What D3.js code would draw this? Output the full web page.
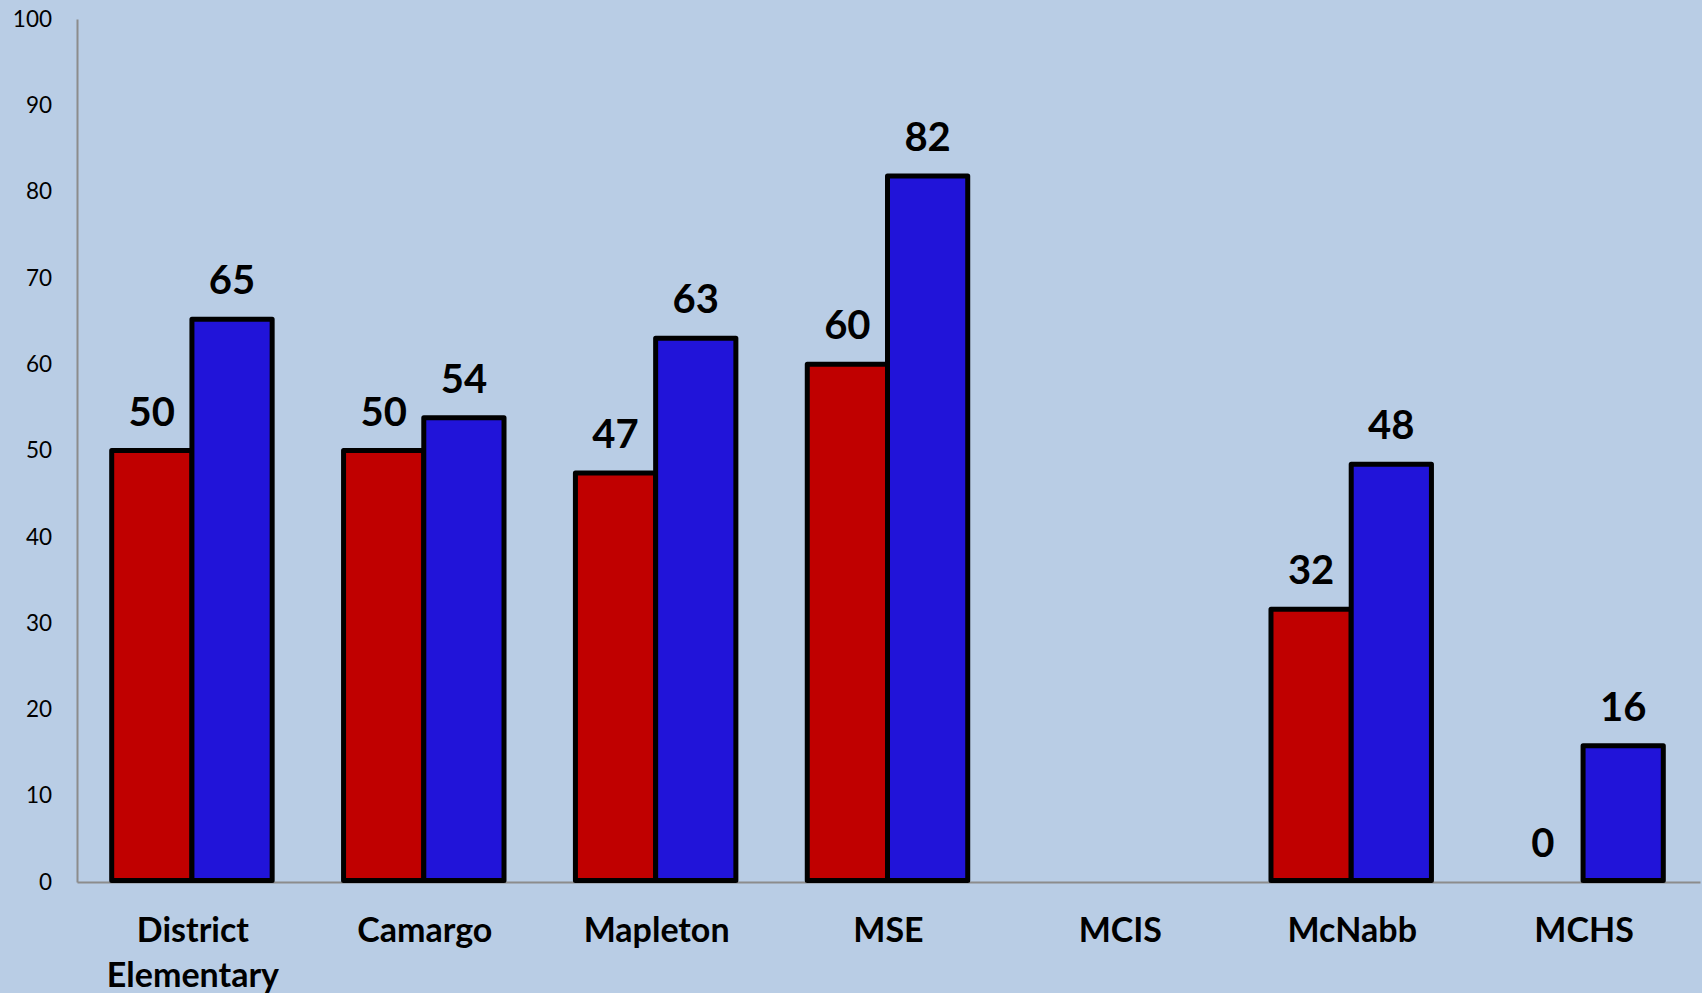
<!DOCTYPE html>
<html><head><meta charset="utf-8">
<script src="https://cdn.jsdelivr.net/npm/d3@7"></script>
<style>html,body{margin:0;padding:0;background:#B9CDE5;}svg{display:block;}</style>
</head><body>
<svg id="chart" width="1702" height="993"></svg>
<script>
const categories = ["District Elementary", "Camargo", "Mapleton", "MSE", "MCIS", "McNabb", "MCHS"];
const seriesRed = [50, 50, 47.4, 60, null, 31.6, 0];
const seriesBlue = [65.2, 53.8, 63, 81.8, null, 48.4, 15.8];
const yTicks = [0, 10, 20, 30, 40, 50, 60, 70, 80, 90, 100];

(function () {
const W = 1702, H = 993;
const mLeft = 77, mRight = 1700, mTop = 19, mBottom = 882;
const svg = d3.select("#chart");
svg.append("rect").attr("width", W).attr("height", H).attr("fill", "#B9CDE5");

const x = d3.scaleBand().domain(categories).range([mLeft, mRight]).paddingInner(0).paddingOuter(0);
const y = d3.scaleLinear().domain([0, 100]).range([mBottom, mTop]);
const sub = d3.scaleBand().domain(["red", "blue"]).range([0, x.bandwidth()]).paddingOuter(0.445).paddingInner(0);

const yAxis = svg.append("g").attr("transform", `translate(${mLeft},0)`)
  .call(d3.axisLeft(y).tickValues(yTicks).tickSize(0).tickPadding(25));
yAxis.select(".domain").attr("stroke", "#8c8c8c").attr("stroke-width", 2);
yAxis.selectAll("text").attr("font-family", "Lato, 'Open Sans', sans-serif").attr("font-size", 22.5).attr("fill", "#000");

const xAxis = svg.append("g").attr("transform", `translate(0,${mBottom})`)
  .call(d3.axisBottom(x).tickSize(0).tickFormat(""));
xAxis.select(".domain").attr("stroke", "#8c8c8c").attr("stroke-width", 2);

const series = [
  {key: "red", values: seriesRed, color: "#C00000"},
  {key: "blue", values: seriesBlue, color: "#2114D9"}
];

series.forEach(s => {
  const data = categories.map((c, i) => ({c, v: s.values[i]})).filter(d => d.v !== null);
  svg.append("g").selectAll("rect").data(data.filter(d => d.v > 0)).join("rect")
    .attr("x", d => x(d.c) + sub(s.key) - 1)
    .attr("y", d => y(d.v))
    .attr("width", sub.bandwidth())
    .attr("height", d => y(0) - y(d.v) - 1.5)
    .attr("fill", s.color)
    .attr("stroke", "#000")
    .attr("stroke-width", 5)
    .attr("stroke-linejoin", "round");
  svg.append("g").selectAll("text").data(data).join("text")
    .attr("x", d => x(d.c) + sub(s.key) + sub.bandwidth() / 2 - 1)
    .attr("y", d => y(d.v) - 25)
    .attr("text-anchor", "middle")
    .attr("font-family", "Lato, 'Open Sans', sans-serif")
    .attr("font-weight", "bold")
    .attr("font-size", 40)
    .attr("fill", "#000")
    .text(d => Math.round(d.v));
});

const catG = svg.append("g");
categories.forEach(c => {
  const words = c.split(" ");
  const t = catG.append("text")
    .attr("x", x(c) + x.bandwidth() / 2)
    .attr("y", 942)
    .attr("text-anchor", "middle")
    .attr("font-family", "Lato, 'Open Sans', sans-serif")
    .attr("font-weight", "bold")
    .attr("font-size", 34)
    .attr("fill", "#000");
  words.forEach((w, i) => {
    t.append("tspan").attr("x", x(c) + x.bandwidth() / 2).attr("dy", i === 0 ? 0 : 45).text(w);
  });
});
})();
</script>
</body></html>
